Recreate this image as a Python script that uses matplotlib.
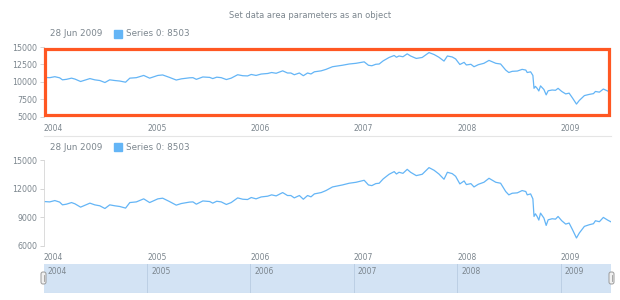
import matplotlib
matplotlib.use("Agg")
import matplotlib.pyplot as plt
import matplotlib.transforms as mtransforms
from matplotlib.patches import Rectangle, FancyBboxPatch
from matplotlib.lines import Line2D
from datetime import datetime

# data (approximate)
dates = [
    "2004-01-02", "2004-01-23", "2004-02-10", "2004-02-27", "2004-03-08", "2004-03-22",
    "2004-04-09", "2004-04-21", "2004-05-11", "2004-06-13", "2004-06-30", "2004-07-18",
    "2004-08-05", "2004-08-22", "2004-09-09", "2004-09-26", "2004-10-17", "2004-11-01",
    "2004-11-24", "2004-12-20", "2005-01-10", "2005-02-08", "2005-02-25", "2005-03-21",
    "2005-04-14", "2005-05-02", "2005-05-31", "2005-06-12", "2005-06-24", "2005-07-17",
    "2005-08-10", "2005-08-21", "2005-09-04", "2005-09-20", "2005-10-08", "2005-10-25",
    "2005-11-17", "2005-12-05", "2005-12-22", "2006-01-04", "2006-01-21", "2006-02-08",
    "2006-03-03", "2006-03-17", "2006-04-02", "2006-04-25", "2006-05-12", "2006-05-24",
    "2006-06-05", "2006-06-23", "2006-07-07", "2006-07-22", "2006-08-03", "2006-08-15",
    "2006-09-08", "2006-09-25", "2006-10-18", "2006-10-30", "2006-11-22", "2006-12-16",
    "2007-01-09", "2007-02-07", "2007-02-22", "2007-03-06", "2007-03-20", "2007-04-01",
    "2007-04-15", "2007-05-06", "2007-05-24", "2007-06-01", "2007-06-10", "2007-06-24",
    "2007-07-09", "2007-07-21", "2007-08-10", "2007-08-31", "2007-09-24", "2007-10-12",
    "2007-10-29", "2007-11-16", "2007-11-28", "2007-12-15", "2007-12-27", "2008-01-11",
    "2008-01-26", "2008-02-03", "2008-02-19", "2008-03-01", "2008-03-16", "2008-04-05",
    "2008-04-23", "2008-05-05", "2008-05-17", "2008-06-03", "2008-06-21", "2008-07-02",
    "2008-07-14", "2008-08-01", "2008-08-18", "2008-08-31", "2008-09-05", "2008-09-17",
    "2008-09-25", "2008-09-29", "2008-10-04", "2008-10-10", "2008-10-16", "2008-10-22",
    "2008-11-03", "2008-11-11", "2008-11-18", "2008-12-02", "2008-12-14", "2008-12-23",
    "2009-01-05", "2009-01-19", "2009-01-31", "2009-02-12", "2009-02-26", "2009-03-08",
    "2009-03-26", "2009-04-12", "2009-04-27", "2009-05-04", "2009-05-18", "2009-06-01",
    "2009-06-16", "2009-06-28",
]
values = [
    10640, 10600, 10740, 10580, 10290, 10360, 10530, 10400, 10050, 10470, 10290, 10190,
    9905, 10290, 10190, 10120, 9950, 10530, 10600, 10920, 10530, 10920, 10990, 10640,
    10260, 10430, 10580, 10600, 10360, 10700, 10640, 10470, 10670, 10600, 10330, 10530,
    11020, 10880, 10850, 11060, 10920, 11120, 11200, 11340, 11230, 11580, 11270, 11270,
    11020, 11270, 10880, 11270, 11130, 11440, 11580, 11790, 12170, 12240, 12380, 12560,
    12660, 12870, 12380, 12310, 12520, 12560, 13010, 13500, 13780, 13530, 13710, 13600,
    14020, 13710, 13360, 13500, 14200, 13920, 13530, 12980, 13710, 13570, 13290, 12490,
    12800, 12420, 12520, 12170, 12450, 12660, 13080, 12870, 12660, 12560, 11690, 11340,
    11510, 11550, 11790, 11690, 11340, 11440, 10920, 9070, 9350, 9070, 8690, 9420,
    8900, 8130, 8720, 8830, 8790, 9070, 8620, 8270, 8380, 7680, 6810, 7330,
    8030, 8200, 8310, 8620, 8520, 8970, 8690, 8503,
]
years = [2004, 2005, 2006, 2007, 2008, 2009]
top_yticks = [5000, 7500, 10000, 12500, 15000]
bottom_yticks = [6000, 9000, 12000, 15000]
title = "Set data area parameters as an object"
series_name = "Series 0"

W, H = 620, 300
LINE = "#64B5F6"
TXT = "#7c868e"
GRID = "#e5e5e5"

x = [datetime.strptime(d, "%Y-%m-%d") for d in dates]
x0, x1 = datetime(2004, 1, 1), x[-1]
year_dates = [datetime(y, 1, 1) for y in years]


def rect(l, t, r, b):
    return [l / W, 1 - b / H, (r - l) / W, (b - t) / H]


fig = plt.figure(figsize=(W / 100, H / 100), dpi=100)
fig.text(310 / W, 1 - 15 / H, title, ha="center", va="center", fontsize=6, color=TXT)
shift = mtransforms.ScaledTranslation(3 / 72, 0, fig.dpi_scale_trans)


def legend(y):
    fig.text(50 / W, 1 - y / H, x[-1].strftime("%d %b %Y"), ha="left", va="center",
             fontsize=6.3, color=TXT)
    fig.add_artist(Rectangle((114 / W, 1 - (y + 4) / H), 8 / W, 8 / H,
                             transform=fig.transFigure, color=LINE))
    fig.text(126 / W, 1 - y / H, f"{series_name}: {values[-1]}", ha="left", va="center",
             fontsize=6.3, color=TXT)


def style_axis(ax, yticks, ylim):
    ax.plot(x, values, color=LINE, lw=0.9)
    ax.set_xlim(x0, x1)
    ax.set_ylim(*ylim)
    ax.set_yticks(yticks)
    ax.set_xticks(year_dates)
    ax.set_xticklabels([str(y) for y in years])
    for lab in ax.get_xticklabels():
        lab.set_ha("left")
        lab.set_transform(lab.get_transform() + shift)
    ax.tick_params(axis="x", length=0, pad=5, labelsize=5.5, labelcolor=TXT)
    ax.tick_params(axis="y", length=3, width=0.6, color="#cfcfcf", pad=1.5, labelsize=5.7, labelcolor=TXT)
    for s in ["top", "right", "bottom"]:
        ax.spines[s].set_visible(False)
    ax.spines["left"].set_color("#d6d6d6")
    ax.spines["left"].set_linewidth(0.6)


# top chart
legend(34)
ax1 = fig.add_axes(rect(43.5, 47, 611, 116.7))
style_axis(ax1, top_yticks, (5000, 15000))
ax1.add_patch(Rectangle((45 / W, 1 - 115 / H), (609.3 - 45) / W, (115 - 48.7) / H,
                        transform=fig.transFigure, fill=False, edgecolor="#FF5722",
                        lw=2.3, clip_on=False, zorder=5))

fig.add_artist(Line2D([43.5 / W, 611 / W], [1 - 136 / H] * 2, color=GRID, lw=0.8))

# bottom chart
legend(147)
ax2 = fig.add_axes(rect(43.5, 160, 611, 245.7))
style_axis(ax2, bottom_yticks, (6000, 15000))

# scroller
ax3 = fig.add_axes(rect(43.5, 263.5, 611, 292.5))
ax3.set_xlim(x0, x1)
ax3.set_ylim(0, 1)
ax3.axvspan(x0, x1, color="#d3e3f4")
for yd, yr in zip(year_dates, years):
    if yd > x0:
        ax3.axvline(yd, color="#bccfe4", lw=0.7)
    ax3.text(yd, 0.74, str(yr), ha="left", va="center", fontsize=5.5, color=TXT,
             transform=ax3.get_xaxis_transform() + shift)
ax3.set_xticks([])
ax3.set_yticks([])
for s in ax3.spines.values():
    s.set_visible(False)
ax3.axhline(0, color="#c3d3e6", lw=0.8)

px = mtransforms.IdentityTransform()
for hx in (43.5, 611.5):
    fig.add_artist(FancyBboxPatch((hx - 2.5, H - 284), 5, 12,
                                  boxstyle="round,pad=0,rounding_size=2",
                                  transform=px, facecolor="#f0f0f0",
                                  edgecolor="#9a9a9a", lw=0.7, zorder=10))
    fig.add_artist(Line2D([hx, hx], [H - 281, H - 275], transform=px,
                          color="#9a9a9a", lw=0.6, zorder=11))

fig.savefig("out.png", dpi=100)
